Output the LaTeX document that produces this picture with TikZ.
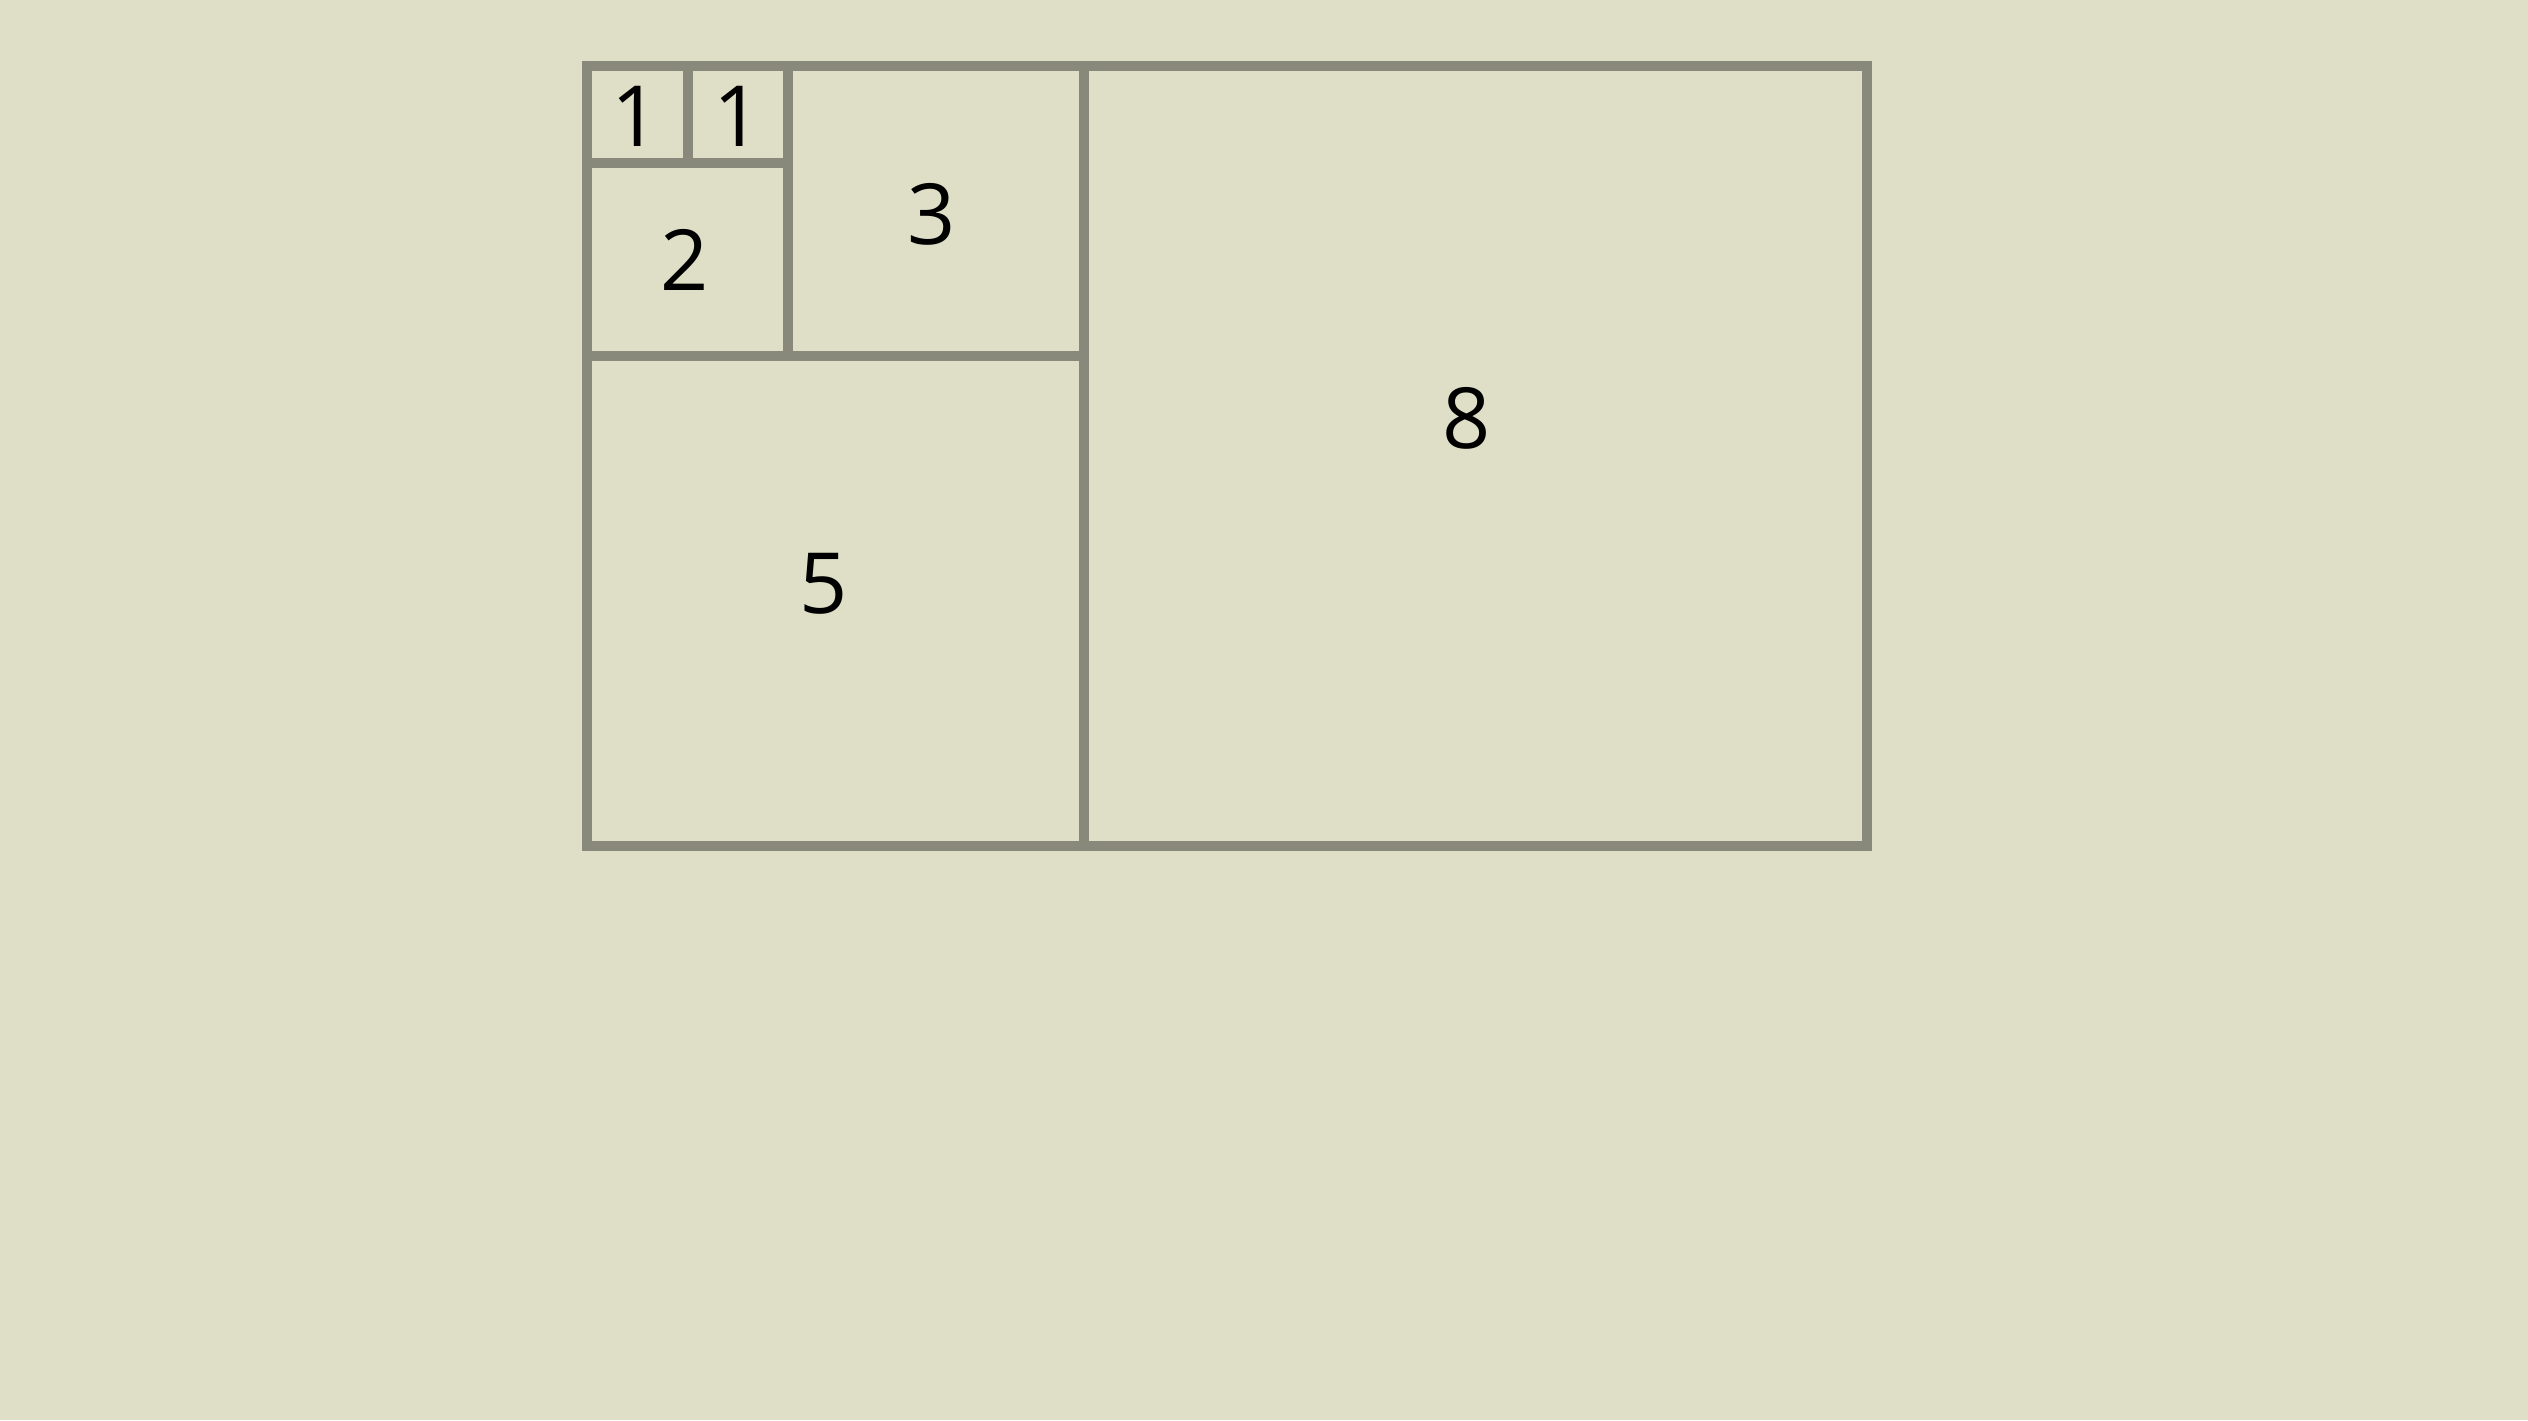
\documentclass[tikz,border=0pt]{standalone}
\usepackage{fontspec}
\setmainfont{Open Sans}
\usepackage{xcolor}
\usepackage{tikz}
\usetikzlibrary{positioning,calc}

\definecolor{paper}{HTML}{DFDFC8}
\definecolor{edge}{HTML}{88887B}

\tikzset{
  sq/.style={draw=edge, line width=2.6pt, line join=miter},
  num/.style={font=\fontsize{24}{24}\selectfont, text=black, inner sep=0pt}
}

\begin{document}
\begin{tikzpicture}[x=0.01cm, y=-0.01cm]
    % Page
    \useasboundingbox (0,0) rectangle (2528,1420);
    \fill[paper] (0,0) rectangle (2528,1420);

    % Squares
    \draw[sq] (587,66) rectangle (688,163);
    \draw[sq] (688,66) rectangle (788,163);
    \draw[sq] (587,163) rectangle (788,356);
    \draw[sq] (788,66) rectangle (1084,356);
    \draw[sq] (587,356) rectangle (1084,846);
    \draw[sq] (1084,66) rectangle (1867,846);

    % Labels
    \node[num] (oneA) at (636,116) {1};
    \node[num] (oneB) at (738,116) {1};
    \node[num] (two) at (685,260) {2};
    \node[num] (three) at (932,214) {3};
    \node[num] (five) at (824,584) {5};
    \node[num] (eight) at (1467,418) {8};
\end{tikzpicture}
\end{document}
